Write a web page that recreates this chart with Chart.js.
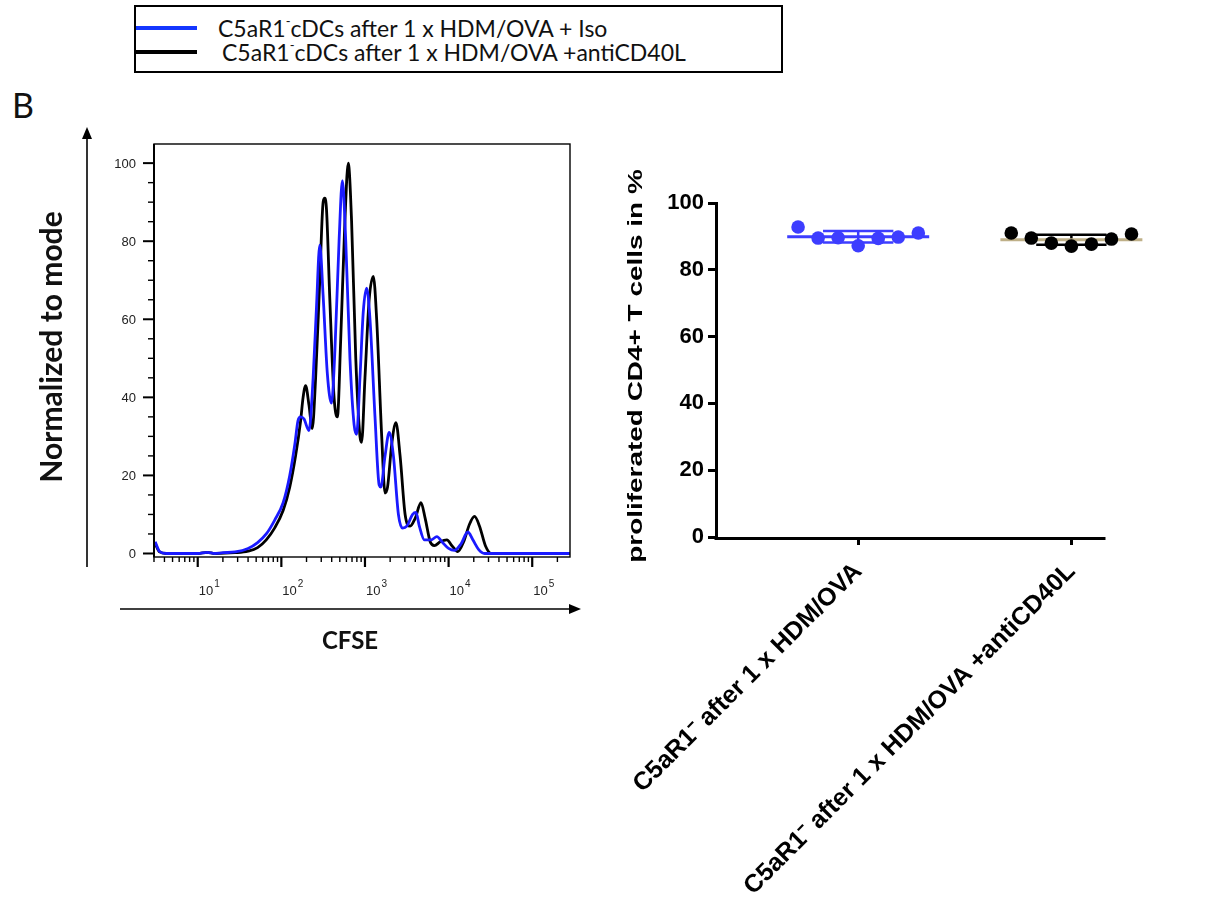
<!DOCTYPE html>
<html>
<head>
<meta charset="utf-8">
<title>CFSE proliferation</title>
<script src="https://cdn.jsdelivr.net/npm/chart.js@4.4.1/dist/chart.umd.min.js"></script>
<style>
  body { margin: 0; background: #fff; width: 1211px; height: 898px; position: relative; overflow: hidden; font-family: Lato, sans-serif; }
  #legendBox { position: absolute; left: 134px; top: 5px; width: 645px; height: 64px; border: 2px solid #000; z-index: 2; background: #fff; }
  .legend-row { position: absolute; left: 0; height: 24px; display: flex; align-items: center; font-size: 23px; color: #111; white-space: nowrap; }
  .legend-row sup { font-size: 13px; position: relative; top: -2px; }
  .swatch { display: inline-block; width: 61px; height: 4px; margin-right: 21px; }
  #panelLabel { position: absolute; left: 12px; top: 84px; font-size: 34px; color: #111; }
  #histCanvas { position: absolute; left: 0; top: 0; }
  #dotCanvas { position: absolute; left: 600px; top: 150px; }
</style>
</head>
<body>
<div id="legendBox"></div>
<div id="panelLabel">B</div>
<canvas id="histCanvas" width="600" height="700"></canvas>
<canvas id="dotCanvas" width="611" height="748"></canvas>
<script>
// CFSE histogram, % of mode
const isoCfse = [3.1, 3.5, 4.2, 10, 13, 16, 20, 28, 40, 52, 66, 83, 105, 126, 145, 158, 170, 186, 214, 240, 263, 288, 316, 355,
  398, 437, 490, 537, 589, 661, 741, 794, 871, 955, 1047, 1148, 1318, 1479, 1549, 1738, 1950, 2188, 2512, 2818, 3162, 3715,
  4074, 4467, 5129, 6166, 7244, 8318, 10000, 11749, 14125, 16982, 19498, 22909, 26915, 50119, 283000];
const isoMode = [3.0, 0.5, 0, 0, 0.3, 0, 0.2, 0.4, 1.3, 2.8, 5, 8.5, 13, 20, 28, 34, 35, 34.5, 31.5, 45, 63, 79, 66, 46,
  38.5, 52, 80, 95.5, 80, 50, 33, 30.5, 45, 62, 68, 60, 35, 17.5, 17, 25, 31, 25, 10, 6.5, 7, 10,
  10.5, 7, 3.5, 3.5, 4.3, 3, 1.3, 0.8, 2.5, 5.5, 3.5, 1, 0, 0, 0];

const cd40lCfse = [3.1, 3.5, 4.2, 10, 13, 16, 28, 40, 52, 66, 83, 105, 126, 148, 170, 182, 195, 214, 234, 257, 288, 316,
  331, 347, 380, 427, 468, 513, 575, 631, 692, 776, 871, 912, 1000, 1122, 1259, 1380, 1585, 1738, 1862, 2089, 2344, 2630,
  3020, 3467, 3981, 4677, 5248, 6026, 6761, 7943, 9550, 10965, 12882, 15136, 17783, 20417, 23442, 27542, 32359, 50119, 283000];
const cd40lMode = [2.5, 0.4, 0, 0, 0.3, 0, 0.2, 0.6, 1.5, 3.5, 6.5, 11, 17, 25, 34, 40, 43, 38, 32, 45, 70, 90,
  91, 88, 65, 40, 35, 55, 85, 100, 85, 50, 30, 28.5, 45, 65, 71, 60, 30, 15.5, 17, 28, 33.5, 25,
  10, 7, 9, 13, 9, 3, 2, 3, 3.5, 2, 0.5, 3, 7.5, 9.5, 7, 2, 0, 0, 0];

const seriesNames = ['C5aR1⁻cDCs after 1 x HDM/OVA + Iso', 'C5aR1⁻cDCs after 1 x HDM/OVA +antiCD40L'];
const histYTicks = [0, 20, 40, 60, 80, 100];
const decadeExponents = [1, 2, 3, 4, 5];

// proliferated CD4+ T cells (%), one dot per mouse
const groupLabels = ['C5aR1⁻ after 1 x HDM/OVA', 'C5aR1⁻ after 1 x HDM/OVA +antiCD40L'];
const isoPercent = [92.8, 89.5, 89.6, 87.2, 89.4, 89.8, 91.0];
const cd40lPercent = [91.0, 89.5, 88.0, 87.1, 87.7, 89.2, 90.7];
const dotYTicks = [0, 20, 40, 60, 80, 100];

const BLUE = '#1a1aff';
const DOT_BLUE = '#3d3dff';
const MEAN_TAN = '#bfb088';

function toPoints(xs, ys) {
  return xs.map((x, i) => ({ x: x, y: ys[i] }));
}

function seg(ctx, x1, y1, x2, y2) {
  ctx.beginPath();
  ctx.moveTo(x1, y1);
  ctx.lineTo(x2, y2);
  ctx.stroke();
}

function arrowHead(ctx, x, y, dir) {
  // dir: 'up' or 'right'
  ctx.beginPath();
  if (dir === 'up') {
    ctx.moveTo(x, y);
    ctx.lineTo(x - 5, y + 12);
    ctx.lineTo(x + 5, y + 12);
  } else {
    ctx.moveTo(x, y);
    ctx.lineTo(x - 12, y - 5);
    ctx.lineTo(x - 12, y + 5);
  }
  ctx.closePath();
  ctx.fill();
}

// frame, log ticks, labels and arrows of the histogram
const histAxes = {
  id: 'histAxes',
  afterDatasetsDraw(chart) {
    const { ctx, chartArea: a, scales: { x, y } } = chart;
    ctx.save();
    ctx.strokeStyle = '#000';
    ctx.fillStyle = '#000';
    ctx.lineWidth = 1.4;
    ctx.strokeRect(a.left, a.top, a.right - a.left, a.bottom - a.top);
    ctx.lineWidth = 2;
    seg(ctx, a.left, a.top, a.left, a.bottom);

    for (let v = 0; v <= 100; v += 5) {
      const py = y.getPixelForValue(v);
      const major = histYTicks.includes(v);
      ctx.lineWidth = major ? 2 : 1.4;
      seg(ctx, a.left - (major ? 11 : 6), py, a.left, py);
    }
    ctx.font = '13px "Liberation Sans", Arial, sans-serif';
    ctx.fillStyle = '#222';
    ctx.textAlign = 'right';
    ctx.textBaseline = 'middle';
    histYTicks.forEach(v => ctx.fillText(String(v), a.left - 18, y.getPixelForValue(v) + 1));

    for (let e = 0; e <= 5; e++) {
      for (let m = 1; m <= 9; m++) {
        const v = m * Math.pow(10, e);
        if (v < x.min || v > x.max) continue;
        const px = x.getPixelForValue(v);
        const major = m === 1;
        ctx.lineWidth = major ? 2.2 : 1.4;
        seg(ctx, px, a.bottom, px, a.bottom + (major ? 10 : 5));
      }
    }
    ctx.textAlign = 'left';
    ctx.textBaseline = 'alphabetic';
    decadeExponents.forEach(e => {
      const px = x.getPixelForValue(Math.pow(10, e));
      ctx.font = '13px "Liberation Sans", Arial, sans-serif';
      ctx.fillText('10', px + 1, a.bottom + 38);
      const w = ctx.measureText('10').width;
      ctx.font = '10px "Liberation Sans", Arial, sans-serif';
      ctx.fillText(String(e), px + 2 + w, a.bottom + 30);
    });

    // outer arrows
    ctx.strokeStyle = '#000';
    ctx.fillStyle = '#000';
    ctx.lineWidth = 1.6;
    seg(ctx, 87, 567, 87, 135);
    arrowHead(ctx, 87, 127, 'up');
    seg(ctx, 120, 609, 572, 609);
    arrowHead(ctx, 581, 609, 'right');

    ctx.fillStyle = '#111';
    ctx.textAlign = 'center';
    ctx.textBaseline = 'middle';
    ctx.font = 'bold 24px Lato, sans-serif';
    ctx.fillText('CFSE', 350, 641);
    ctx.save();
    ctx.font = 'bold 30px Lato, sans-serif';
    ctx.translate(52, 347);
    ctx.rotate(-Math.PI / 2);
    ctx.fillText('Normalized to mode', 0, 0);
    ctx.restore();
    ctx.restore();
  }
};

const histChart = new Chart(document.getElementById('histCanvas'), {
  type: 'line',
  data: {
    datasets: [
      { label: seriesNames[0], data: toPoints(isoCfse, isoMode), borderColor: BLUE, borderWidth: 2.8 },
      { label: seriesNames[1], data: toPoints(cd40lCfse, cd40lMode), borderColor: '#000', borderWidth: 2.8 }
    ]
  },
  options: {
    responsive: false,
    animation: false,
    events: [],
    layout: { padding: { left: 154, top: 144, right: 30, bottom: 143 } },
    elements: { point: { radius: 0 }, line: { cubicInterpolationMode: 'monotone', fill: false } },
    plugins: { legend: { display: false }, tooltip: { enabled: false } },
    scales: {
      x: { type: 'logarithmic', min: 3, max: 283000, display: false },
      y: { type: 'linear', min: -0.9, max: 104.9, display: false }
    }
  },
  plugins: [histAxes]
});

// legend box built from the histogram datasets
const legendBox = document.getElementById('legendBox');
histChart.data.datasets.forEach((ds, i) => {
  const row = document.createElement('div');
  row.className = 'legend-row';
  row.style.top = (i === 0 ? 9 : 33) + 'px';
  const sw = document.createElement('span');
  sw.className = 'swatch';
  sw.style.background = ds.borderColor === BLUE ? '#1436ff' : '#000';
  const txt = document.createElement('span');
  txt.innerHTML = ds.label.replace('⁻', '<sup>-</sup>');
  if (i === 1) txt.style.marginLeft = '4px';
  row.appendChild(sw);
  row.appendChild(txt);
  legendBox.appendChild(row);
});

// dot plot: mean line and SD whiskers per group
const jitterStep = 0.094;
const axisEnd = 1.16;
function spread(values, gi) {
  const mid = (values.length - 1) / 2;
  return values.map((v, i) => ({ x: gi + (i - mid) * jitterStep, y: v }));
}
function mean(a) { return a.reduce((s, v) => s + v, 0) / a.length; }
function sd(a) {
  const m = mean(a);
  return Math.sqrt(a.reduce((s, v) => s + (v - m) * (v - m), 0) / (a.length - 1));
}

const groups = [
  { values: isoPercent, dot: DOT_BLUE, meanColor: DOT_BLUE, barColor: DOT_BLUE },
  { values: cd40lPercent, dot: '#000', meanColor: MEAN_TAN, barColor: '#000' }
];

const meanSd = {
  id: 'meanSd',
  beforeDatasetsDraw(chart) {
    const { ctx, chartArea: a, scales: { x, y } } = chart;
    ctx.save();
    // x baseline stops a little after the last group
    ctx.strokeStyle = '#000';
    ctx.lineWidth = 3;
    seg(ctx, a.left - 1.5, a.bottom + 1.5, x.getPixelForValue(axisEnd), a.bottom + 1.5);
    groups.forEach((g, gi) => {
      const m = mean(g.values), s = sd(g.values);
      const cx = x.getPixelForValue(gi);
      const halfMean = x.getPixelForValue(gi + 0.333) - cx;
      const halfCap = x.getPixelForValue(gi + 0.165) - cx;
      const pm = y.getPixelForValue(m), pHi = y.getPixelForValue(m + s), pLo = y.getPixelForValue(m - s);
      ctx.lineWidth = 2.5;
      ctx.strokeStyle = g.barColor;
      seg(ctx, cx, pHi, cx, pLo);
      seg(ctx, cx - halfCap, pHi, cx + halfCap, pHi);
      seg(ctx, cx - halfCap, pLo, cx + halfCap, pLo);
      ctx.strokeStyle = g.meanColor;
      ctx.lineWidth = 3;
      seg(ctx, cx - halfMean, pm, cx + halfMean, pm);
    });
    ctx.restore();
  },
  afterDraw(chart) {
    const { ctx } = chart;
    ctx.save();
    ctx.font = 'bold 21px "Liberation Sans", Arial, sans-serif';
    ctx.fillStyle = '#000';
    ctx.textAlign = 'center';
    ctx.textBaseline = 'middle';
    ctx.translate(36, 216);
    ctx.rotate(-Math.PI / 2);
    ctx.scale(1.33, 1);
    ctx.fillText('proliferated CD4+ T cells in %', 0, 0);
    ctx.restore();
  }
};

new Chart(document.getElementById('dotCanvas'), {
  type: 'scatter',
  data: {
    datasets: groups.map((g, gi) => ({
      data: spread(g.values, gi),
      pointBackgroundColor: g.dot,
      pointBorderColor: g.dot,
      pointRadius: 6.8,
      pointBorderWidth: 0
    }))
  },
  options: {
    responsive: false,
    animation: false,
    events: [],
    layout: { padding: { left: 0, top: 53, right: 65, bottom: 0 } },
    plugins: { legend: { display: false }, tooltip: { enabled: false } },
    scales: {
      x: {
        type: 'linear',
        min: -0.667,
        max: 1.35,
        afterBuildTicks: scale => { scale.ticks = groupLabels.map((_, i) => ({ value: i })); },
        afterFit: scale => {
          scale.height = 361;
          scale.paddingLeft = 0;
          scale.paddingRight = 0;
        },
        ticks: {
          autoSkip: false,
          minRotation: 45,
          maxRotation: 45,
          padding: 12,
          color: '#000',
          font: { family: '"Liberation Sans", Arial, sans-serif', size: 25, weight: 'bold' },
          callback: v => groupLabels[v]
        },
        grid: { drawOnChartArea: false, tickLength: 8, tickWidth: 3, tickColor: '#000' },
        border: { display: false }
      },
      y: {
        min: 0,
        max: 100,
        afterBuildTicks: scale => { scale.ticks = dotYTicks.map(v => ({ value: v })); },
        afterFit: scale => { scale.width = 116; },
        ticks: {
          padding: 4,
          color: '#000',
          font: { family: '"Liberation Sans", Arial, sans-serif', size: 22, weight: 'bold' }
        },
        grid: { drawOnChartArea: false, tickLength: 8, tickWidth: 3, tickColor: '#000' },
        border: { color: '#000', width: 3 }
      }
    }
  },
  plugins: [meanSd]
});
</script>
</body>
</html>
